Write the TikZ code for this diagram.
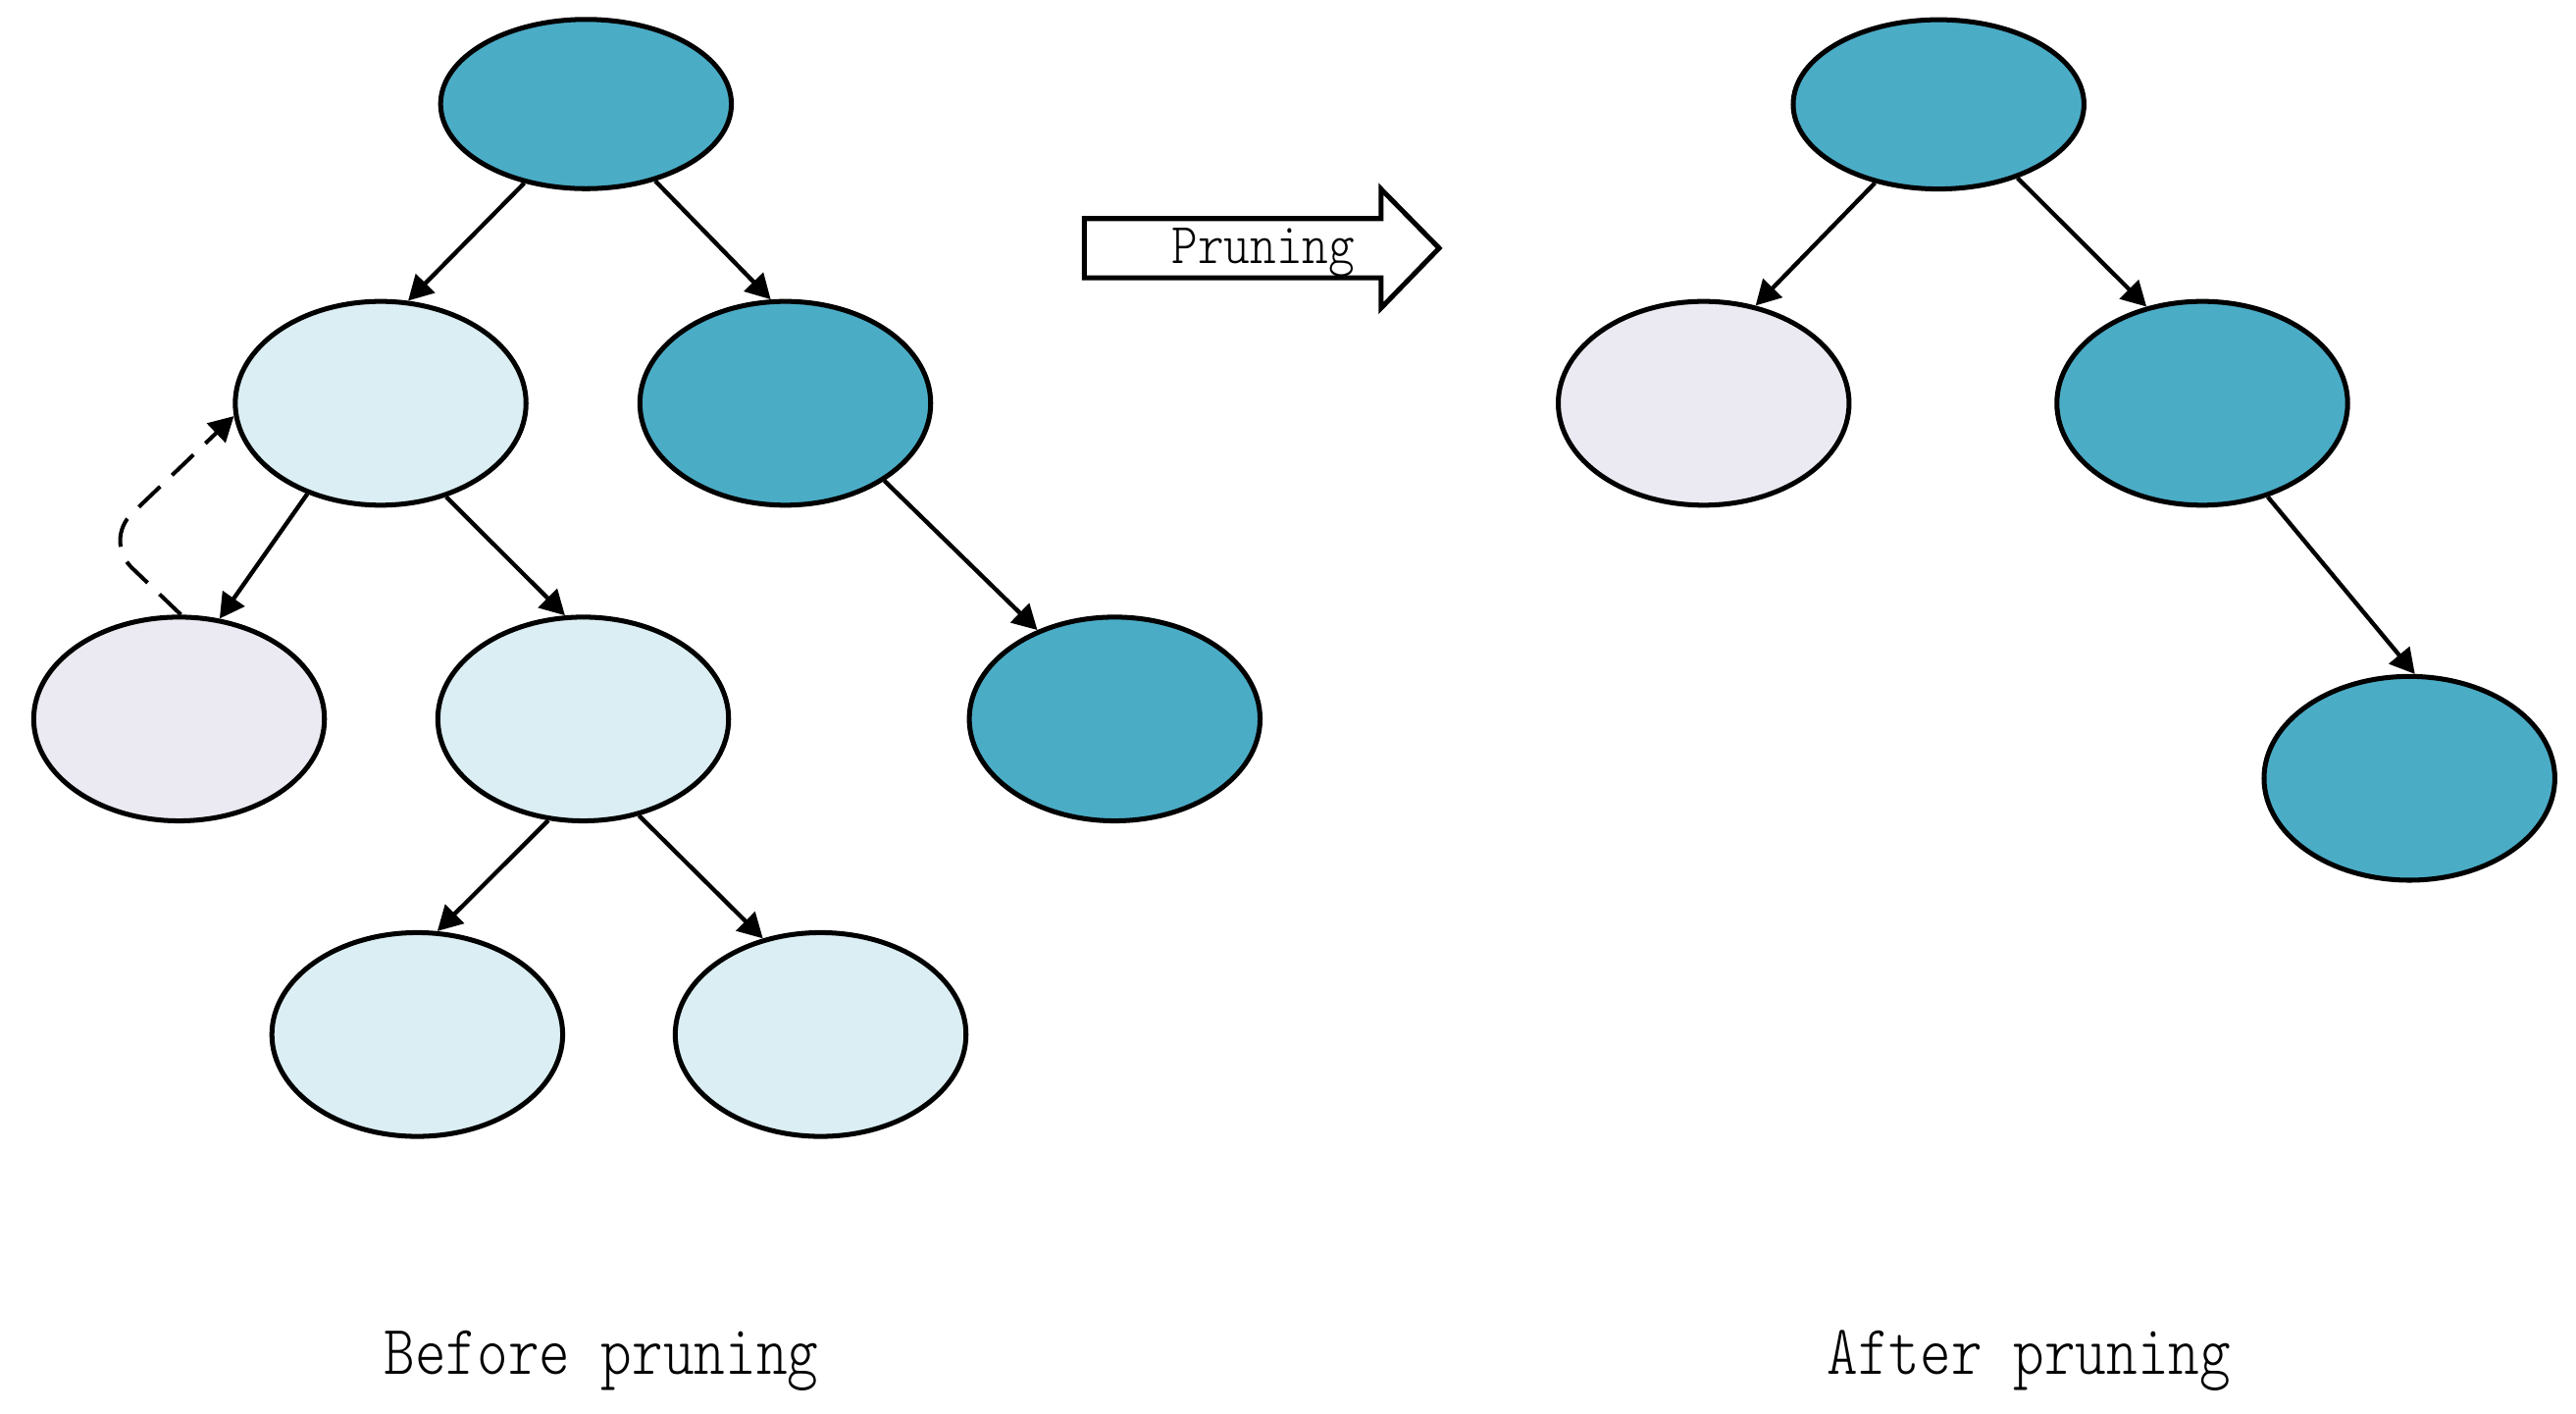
\documentclass[tikz,border=0pt]{standalone}
\usepackage{fontspec}
\newfontfamily\lblfont{Latin Modern Mono Light}
\usetikzlibrary{shapes.geometric,arrows.meta}
\definecolor{teal1}{HTML}{4BACC6}
\definecolor{light1}{HTML}{DAEEF3}
\definecolor{lav1}{HTML}{EBE9F1}
\begin{document}
\begin{tikzpicture}[x=1pt,y=-1pt,
  nd/.style={ellipse,draw=black,line width=3pt,minimum width=177pt,minimum height=124pt,inner sep=0pt},
  rootnd/.style={nd,minimum height=103pt},
  tealnd/.style={fill=teal1},
  lightnd/.style={fill=light1},
  lavnd/.style={fill=lav1},
  conn/.style={line width=2.6pt,-{Triangle[length=15pt,width=16pt]}},
  dconn/.style={line width=2.4pt,dash pattern=on 18pt off 10pt,rounded corners=24pt,-{Triangle[length=15pt,width=16pt]}},
  lbl/.style={anchor=base,inner sep=0pt,font=\lblfont\fontsize{36}{40}\selectfont}
]
\useasboundingbox (0,0) rectangle (1568,860);
% left tree
\node[rootnd,tealnd] (A) at (356.7,63.3) {};
\node[nd,lightnd] (B) at (231.7,245.4) {};
\node[nd,tealnd] (C) at (478,245.4) {};
\node[nd,lavnd] (D) at (109,437.5) {};
\node[nd,lightnd] (E) at (355,437.5) {};
\node[nd,tealnd] (F) at (678.5,437.5) {};
\node[nd,lightnd] (G) at (254,629.5) {};
\node[nd,lightnd] (H) at (499.5,629.5) {};
\draw[conn] (A.232) -- (B.75);
\draw[conn] (A.312) -- (C.98);
\draw[conn] (B.231) -- (D.68);
\draw[conn] (B.305) -- (E.100);
\draw[conn] (C.322) -- (F.131);
\draw[conn] (E.251) -- (G.79);
\draw[conn] (E.300) -- (H.121);
\coordinate (bend) at (63,329);
\draw[dconn] (D.89) -- (bend) -- (B.185);
% right tree
\node[rootnd,tealnd] (RA) at (1180,63.5) {};
\node[nd,lavnd] (RB) at (1037,245.4) {};
\node[nd,tealnd] (RC) at (1340.5,245.4) {};
\node[nd,tealnd] (RD) at (1466.6,473.6) {};
\draw[conn] (RA.231) -- (RB.62);
\draw[conn] (RA.317) -- (RC.120);
\draw[conn] (RC.305) -- (RD.87);
% pruning block arrow
\draw[line width=3pt,fill=white,line join=miter] (660,133) -- (840.6,133) -- (840.6,115) -- (876,151) -- (840.6,187.5) -- (840.6,169) -- (660,169) -- cycle;
\node[anchor=base,inner sep=0pt,font=\lblfont\fontsize{30.3}{34}\selectfont] (prunelbl) at (769,160.6) {\scalebox{1}[1.16]{Pruning}};
% captions
\node[lbl] (before) at (366,836) {\scalebox{1}[1.19]{Before pruning}};
\node[lbl] (after) at (1235,836) {\scalebox{1}[1.19]{After pruning}};
\end{tikzpicture}
\end{document}
